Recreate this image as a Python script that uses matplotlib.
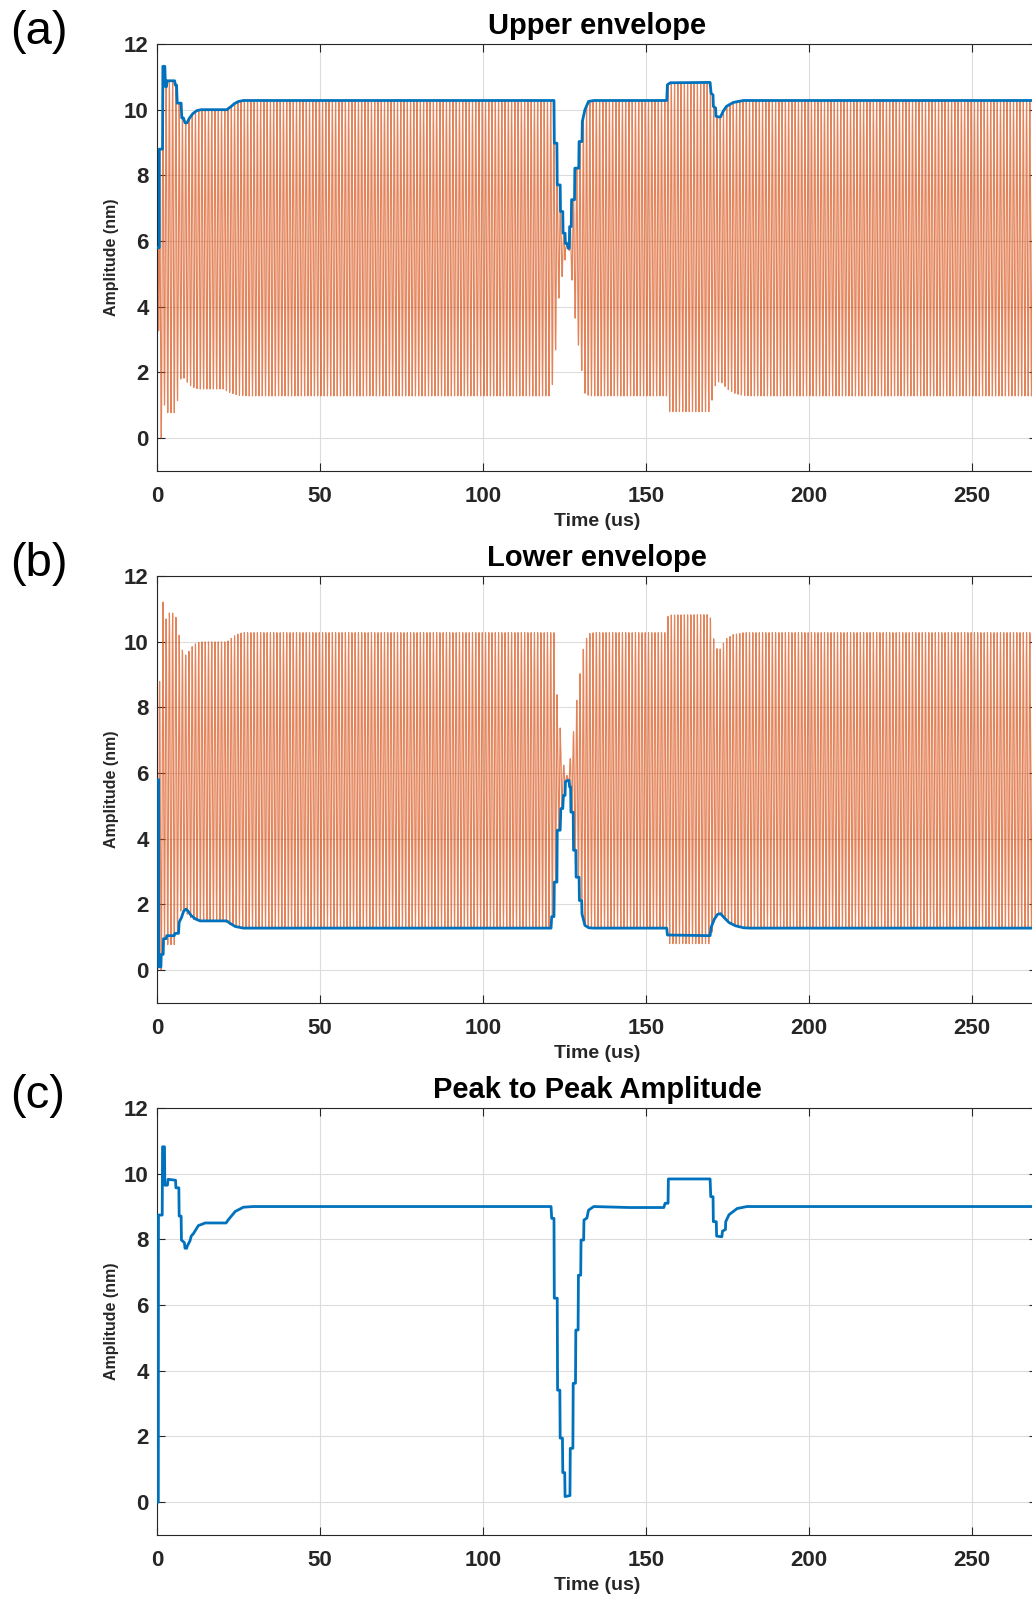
import numpy as np
import matplotlib
matplotlib.use("Agg")
import matplotlib.pyplot as plt

plt.rcParams['font.family'] = ['Liberation Sans', 'DejaVu Sans']

# ---------------- data ----------------
# Upper envelope (panel a), breakpoints: time (us), amplitude (nm)
upper_t = [0, 0.7, 0.7, 1.7, 1.8, 2.4, 2.6, 2.9, 3.1, 5.4, 5.6, 6.0, 6.2, 7.4, 7.6, 8.1,
           8.6, 9.2, 10.0, 11.0, 12.2, 13.5, 21.4, 22.5, 23.7, 25.0, 26.5,
           121.8, 121.9, 122.7, 122.8, 123.7, 123.8, 124.5, 124.6, 125.2, 125.3, 125.8,
           126.2, 126.5, 126.6, 127.1, 127.2, 128.1, 128.2, 129.4, 129.5, 130.4, 130.5,
           131.3, 132.4, 134.0, 156.4, 156.6, 157.5, 169.7, 170.0, 170.6, 170.7, 171.4,
           171.5, 172.2, 172.9, 173.7, 174.7, 176.8, 179.9, 270]
upper_v = [5.8, 5.8, 8.8, 8.8, 11.32, 11.32, 10.7, 10.7, 10.88, 10.88, 10.75, 10.75, 10.2, 10.2, 9.75, 9.75,
           9.6, 9.6, 9.75, 9.88, 9.97, 10.0, 10.0, 10.08, 10.18, 10.25, 10.28,
           10.28, 8.98, 8.98, 7.71, 7.71, 6.9, 6.9, 6.24, 6.24, 5.93, 5.93,
           5.78, 5.78, 6.44, 6.44, 7.26, 7.26, 8.22, 8.22, 9.03, 9.03, 9.64,
           10.0, 10.25, 10.28, 10.28, 10.76, 10.82, 10.83, 10.5, 10.45, 10.1, 10.05,
           9.8, 9.78, 9.78, 9.95, 10.1, 10.22, 10.28, 10.28]

# Lower envelope (panel b)
lower_t = [0, 0.5, 0.5, 1.2, 1.3, 1.9, 2.0, 2.8, 3.0, 5.3, 5.5, 6.6, 6.8, 7.5, 8.2, 8.9,
           9.5, 10.5, 11.8, 13.2, 21.4, 22.5, 24.0, 26.5,
           120.9, 121.1, 121.8, 121.9, 122.7, 122.8, 123.7, 123.9, 124.5, 124.7, 125.2,
           125.3, 126.0, 126.4, 126.6, 126.9, 127.0, 127.7, 127.8, 128.5, 128.6, 129.5,
           129.6, 130.3, 130.4, 131.3, 132.5, 134.0, 156.4, 156.6, 169.7, 170.0, 171.0,
           172.0, 172.9, 174.0, 175.5, 177.5, 180.0, 182.0, 270]
lower_v = [5.8, 5.8, 0.1, 0.1, 0.48, 0.48, 0.96, 0.96, 1.05, 1.05, 1.12, 1.12, 1.46, 1.6, 1.8, 1.86,
           1.8, 1.66, 1.56, 1.5, 1.5, 1.42, 1.33, 1.28,
           1.28, 1.63, 1.63, 2.68, 2.68, 4.26, 4.26, 4.92, 4.92, 5.32, 5.32,
           5.73, 5.78, 5.78, 5.58, 5.58, 4.81, 4.81, 3.65, 3.65, 2.83, 2.83,
           2.12, 2.12, 1.71, 1.36, 1.29, 1.28, 1.28, 1.07, 1.05, 1.3, 1.55,
           1.7, 1.72, 1.6, 1.45, 1.35, 1.29, 1.28, 1.28]

# Minima of the raw oscillating signal (orange)
trough_t = [0, 0.3, 0.6, 1.5, 1.8, 2.4, 2.6, 5.3, 5.6, 6.2, 6.5, 7.1, 7.9, 9.1, 10.6, 12.7,
            20.4, 22.4, 25.0, 28.0,
            120.9, 121.1, 121.8, 121.9, 122.7, 122.8, 123.7, 123.9, 124.5, 124.7, 125.2,
            125.3, 126.0, 126.4, 126.6, 126.9, 127.0, 127.7, 127.8, 128.5, 128.6, 129.5,
            129.6, 130.3, 130.4, 131.3, 132.5, 134.0, 156.4, 156.6, 169.7, 170.2, 171.0,
            172.0, 172.9, 174.0, 175.5, 177.5, 180.0, 182.0, 270]
trough_v = [5.8, 5.8, 0.0, 0.0, 1.0, 1.0, 0.77, 0.77, 1.0, 1.0, 1.46, 1.77, 1.87, 1.72, 1.56, 1.49,
            1.49, 1.38, 1.3, 1.28,
            1.28, 1.63, 1.63, 2.68, 2.68, 4.26, 4.26, 4.92, 4.92, 5.32, 5.32,
            5.73, 5.78, 5.78, 5.58, 5.58, 4.81, 4.81, 3.65, 3.65, 2.83, 2.83,
            2.12, 2.12, 1.71, 1.36, 1.29, 1.28, 1.28, 0.8, 0.8, 1.1, 1.55,
            1.7, 1.72, 1.6, 1.45, 1.35, 1.29, 1.28, 1.28]
carrier_period = 1.0   # us
carrier_first_peak = 0.8

# Peak-to-peak amplitude (panel c)
p2p_t = [0, 0.4, 0.45, 1.6, 1.7, 2.3, 2.4, 3.2, 3.4, 5.7, 5.8, 6.7, 6.8, 7.4, 7.5, 8.4, 8.6, 9.1,
         9.3, 10.1, 10.5, 11.2, 12.7, 14.8, 21.2, 21.9, 24.0, 26.5, 29.5,
         120.9, 121.1, 121.8, 121.9, 122.8, 122.9, 123.6, 123.7, 124.4, 124.5, 125.1, 125.2,
         126.7, 126.8, 127.6, 127.7, 128.4, 128.5, 129.2, 129.3, 130.0, 130.1, 130.9, 131.0,
         131.9, 132.4, 134.0, 145.0, 155.5, 155.9, 156.8, 156.9, 169.7, 169.9, 170.6, 170.7,
         171.6, 171.7, 173.3, 173.5, 174.4, 174.5, 175.5, 178.0, 181.0, 270]
p2p_v = [0, 0, 8.74, 8.74, 10.82, 10.82, 9.65, 9.65, 9.83, 9.8, 9.57, 9.57, 8.71, 8.71, 7.98, 7.9, 7.73, 7.73,
         7.8, 7.95, 8.1, 8.18, 8.42, 8.5, 8.5, 8.6, 8.85, 8.98, 9.0,
         9.0, 8.64, 8.64, 6.21, 6.21, 3.41, 3.41, 1.95, 1.95, 0.9, 0.9, 0.17,
         0.2, 1.64, 1.64, 3.62, 3.62, 5.24, 5.24, 6.91, 6.91, 7.98, 7.98, 8.59,
         8.65, 8.89, 9.0, 8.97, 8.97, 9.1, 9.1, 9.84, 9.84, 9.3, 9.3, 8.54,
         8.54, 8.1, 8.08, 8.25, 8.3, 8.54, 8.75, 8.94, 9.0, 9.0]

titles = ["Upper envelope", "Lower envelope", "Peak to Peak Amplitude"]
panel_labels = ["(a)", "(b)", "(c)"]
x_ticks = [0, 50, 100, 150, 200, 250]
y_ticks = [0, 2, 4, 6, 8, 10, 12]
x_label = "Time (us)"
y_label = "Amplitude (nm)"

# ---------------- raw signal between the envelopes ----------------
ts = np.linspace(0, 270, 270 * 24 + 1)
hi = np.interp(ts, upper_t, upper_v)
lo = np.interp(ts, trough_t, trough_v)
phase = (1 + np.cos(2 * np.pi * (ts - carrier_first_peak) / carrier_period)) / 2
signal = lo + (hi - lo) * phase

# ---------------- figure ----------------
W, H = 1032, 1598
fig = plt.figure(figsize=(W / 100, H / 100), dpi=100)

blue = '#0072BD'
orange = '#D95319'
axes_tops = [44, 576, 1108]
ax_h = 427
left_px = 157
width_px = 880

series = [(upper_t, upper_v), (lower_t, lower_v), (p2p_t, p2p_v)]
for i in range(3):
    top = axes_tops[i]
    ax = fig.add_axes([left_px / W, 1 - (top + ax_h) / H, width_px / W, ax_h / H])
    if i < 2:
        ax.plot(ts, signal, color=orange, lw=0.85, alpha=0.72, zorder=2)
    ax.plot(series[i][0], series[i][1], color=blue, lw=2.0, zorder=3)
    ax.set_xlim(0, 270)
    ax.set_ylim(-1, 12)
    ax.set_xticks(x_ticks)
    ax.set_yticks(y_ticks)
    ax.grid(True, color='#dcdcdc', lw=0.8)
    ax.set_axisbelow(True)
    ax.tick_params(direction='in', length=6, width=0.8, colors='#262626',
                   labelsize=16, top=True, right=True)
    ax.tick_params(axis='x', pad=10.5)
    ax.tick_params(axis='y', pad=6)
    for lab in ax.get_xticklabels() + ax.get_yticklabels():
        lab.set_fontweight('bold')
    for s in ax.spines.values():
        s.set_color('#262626')
        s.set_linewidth(0.8)
    ax.set_title(titles[i], fontsize=21, fontweight='bold', pad=7)
    ax.set_xlabel(x_label, fontsize=14, fontweight='bold', color='#262626')
    ax.xaxis.set_label_coords(0.5, -0.098)
    ax.set_ylabel(y_label, fontsize=11.5, fontweight='bold', color='#262626')
    ax.yaxis.set_label_coords(-0.043, 0.5)
    fig.text(10 / W, 1 - (top - 12) / H, panel_labels[i], fontsize=34,
             ha='left', va='center')

fig.savefig('out.png', dpi=100)
